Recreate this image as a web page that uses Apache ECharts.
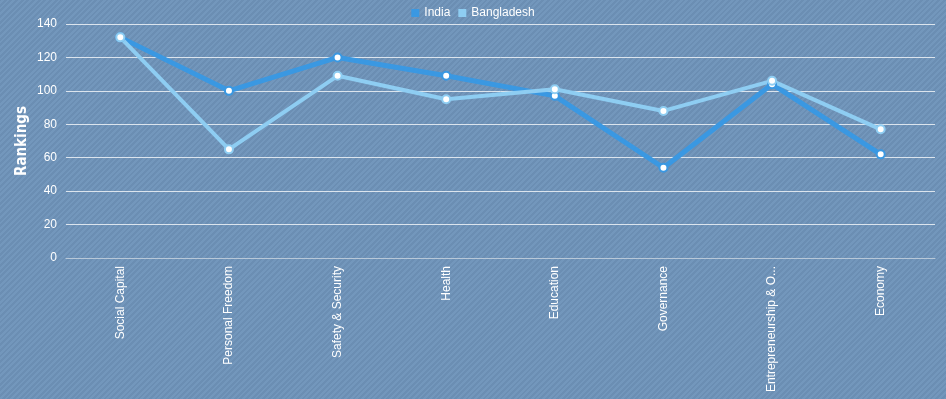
<!DOCTYPE html>
<html>
<head>
<meta charset="utf-8">
<script src="https://cdn.jsdelivr.net/npm/echarts@6/dist/echarts.min.js"></script>
<style>
html,body{margin:0;padding:0;}
#chart{
    width:946px;
    height:399px;
    background-color:#6f93b8;
    background-image:repeating-linear-gradient(-45deg,#7397bc 0px,#7397bc 2px,#6b8eb3 2px,#6b8eb3 4px);
}
</style>
</head>
<body>
<div id="chart"></div>
<script>
var categories = ['Social Capital','Personal Freedom','Safety & Security','Health','Education','Governance','Entrepreneurship & Opportunity','Economy']
var india = [132,100,120,109,97,54,104,62]
var bangladesh = [132,65,109,95,101,88,106,77]
var yTicks = {min:0,max:140,interval:20}

var chart = echarts.init(document.getElementById('chart'))
var option = {
    backgroundColor:'transparent',
    textStyle:{fontFamily:'Liberation Sans, Arial, sans-serif'},
    legend:{
        top:2,
        left:'center',
        itemWidth:8,
        itemHeight:8,
        itemGap:8,
        icon:'rect',
        textStyle:{color:'#fff',fontSize:12},
        data:[
            {name:'India',itemStyle:{color:'#3a98e2',borderWidth:0}},
            {name:'Bangladesh',itemStyle:{color:'#8ecdf2',borderWidth:0}}
        ]
    },
    grid:{left:66,right:11,top:24,bottom:141},
    xAxis:{
        type:'category',
        data:categories,
        boundaryGap:true,
        axisLine:{lineStyle:{color:'#b8c8d8',width:1}},
        axisTick:{lineStyle:{color:'#b8c8d8'}},
        axisLabel:{
            rotate:90,
            color:'#fff',
            fontSize:12,
            margin:8,
            width:128,
            overflow:'truncate',
            ellipsis:'...'
        }
    },
    yAxis:{
        type:'value',
        min:yTicks.min,
        max:yTicks.max,
        interval:yTicks.interval,
        name:'Rankings',
        nameLocation:'middle',
        nameGap:36,
        nameMoveOverlap:false,
        nameTextStyle:{color:'#fff',fontSize:15,fontWeight:'bold',fontFamily:'DejaVu Sans Condensed, sans-serif'},
        axisLine:{show:false},
        axisTick:{show:false},
        axisLabel:{color:'#fff',fontSize:12,margin:9},
        splitLine:{lineStyle:{color:'rgba(255,255,255,0.75)',width:1}}
    },
    series:[
        {
            name:'India',
            type:'line',
            data:india,
            color:'#3a98e2',
            symbol:'circle',
            symbolSize:8,
            lineStyle:{width:5,color:'#3a98e2'},
            itemStyle:{color:'#fff',borderColor:'#3a98e2',borderWidth:2}
        },
        {
            name:'Bangladesh',
            type:'line',
            data:bangladesh,
            color:'#8ecdf2',
            symbol:'circle',
            symbolSize:8,
            lineStyle:{width:4,color:'#8ecdf2'},
            itemStyle:{color:'#fff',borderColor:'#8ecdf2',borderWidth:2}
        }
    ]
}
chart.setOption(option)
</script>
</body>
</html>
